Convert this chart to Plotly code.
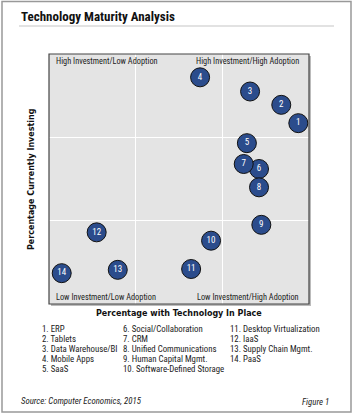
import plotly.graph_objects as go

# ---- data ----
ids = [1, 2, 3, 4, 5, 6, 7, 8, 9, 10, 11, 12, 13, 14]
adoption = [86.3, 80.4, 69.6, 52.3, 68.5, 72.7, 67.4, 72.7, 73.5, 56.1, 49.2, 16.5, 23.8, 4.4]
investing = [21.7, 23.9, 25.5, 27.2, 19.3, 16.2, 16.8, 14.0, 9.5, 7.6, 4.2, 8.6, 4.1, 3.7]
names = ["ERP", "Tablets", "Data Warehouse/BI", "Mobile Apps", "SaaS",
         "Social/Collaboration", "CRM", "Unified Communications", "Human Capital Mgmt.",
         "Software-Defined Storage", "Desktop Virtualization", "IaaS",
         "Supply Chain Mgmt.", "PaaS"]
quadrants = ["High Investment/Low Adoption", "High Investment/High Adoption",
             "Low Investment/Low Adoption", "Low Investment/High Adoption"]

W, H = 354, 416
L, R, T, B = 49, 309, 54, 304
PW, PH = R - L, B - T

def px(x):
    return (x - L) / PW

def py(y):
    return (B - y) / PH

FONT = "Roboto Condensed, Liberation Sans, Arial"

fig = go.Figure()
fig.add_trace(go.Scatter(
    x=adoption, y=investing, mode="markers+text",
    text=[str(i) for i in ids], textposition="middle center",
    textfont=dict(color="white", size=9, family=FONT),
    marker=dict(size=19, color="#2B4C8C", line=dict(color="#111111", width=1)),
    hoverinfo="skip", cliponaxis=False,
))

ann = []
# title
ann.append(dict(text="<b>Technology Maturity Analysis</b>", x=px(19), y=py(16),
                xref="paper", yref="paper", xanchor="left", yanchor="middle",
                showarrow=False, font=dict(size=13, family=FONT, color="#111")))
# quadrant labels
qpos = [(54, 61, "left"), (301, 61, "right"), (54, 297, "left"), (301, 297, "right")]
for q, (x, y, a) in zip(quadrants, qpos):
    ann.append(dict(text=q, x=px(x), y=py(y), xref="paper", yref="paper",
                    xanchor=a, yanchor="middle", showarrow=False,
                    font=dict(size=8.3, family=FONT, color="#222")))
# axis titles
ann.append(dict(text="<b>Percentage with Technology In Place</b>", x=px(179), y=py(313),
                xref="paper", yref="paper", xanchor="center", yanchor="middle",
                showarrow=False, font=dict(size=8, family="DejaVu Sans", color="#111")))
ann.append(dict(text="<b>Percentage Currently Investing</b>", x=px(31), y=py(179),
                xref="paper", yref="paper", xanchor="center", yanchor="middle", textangle=-90,
                showarrow=False, font=dict(size=8, family="DejaVu Sans", color="#111")))
# legend list
colx = [40, 121, 228]
for k, (i, n) in enumerate(zip(ids, names)):
    col = 0 if k < 5 else (1 if k < 10 else 2)
    row = k - col * 5
    ann.append(dict(text=f"{i}. {n}", x=px(colx[col]), y=py(328.5 + row * 10.2),
                    xref="paper", yref="paper", xanchor="left", yanchor="middle",
                    showarrow=False, font=dict(size=8.8, family=FONT, color="#222")))
# source & figure
ann.append(dict(text="<i>Source: Computer Economics, 2015</i>", x=px(19), y=py(401),
                xref="paper", yref="paper", xanchor="left", yanchor="middle",
                showarrow=False, font=dict(size=8.8, family=FONT, color="#222")))
ann.append(dict(text="<i>Figure 1</i>", x=px(331), y=py(402),
                xref="paper", yref="paper", xanchor="right", yanchor="middle",
                showarrow=False, font=dict(size=8.8, family=FONT, color="#222")))

shapes = [
    # outer frame
    dict(type="rect", xref="paper", yref="paper", x0=px(2), x1=px(351), y0=py(1.5), y1=py(412),
         line=dict(color="#999", width=1.5), layer="below"),
    # title rule
    dict(type="line", xref="paper", yref="paper", x0=px(19), x1=px(334), y0=py(26), y1=py(26),
         line=dict(color="#d8d8d8", width=1.5)),
    # plot shadow
    dict(type="rect", xref="paper", yref="paper", x0=px(L + 2), x1=px(R + 2), y0=py(B + 2), y1=py(T + 2),
         line=dict(width=0), fillcolor="#bbbbbb", layer="below"),
    # plot background
    dict(type="rect", xref="paper", yref="paper", x0=0, x1=1, y0=0, y1=1,
         line=dict(width=0), fillcolor="#e4e4e4", layer="below"),
    # plot frame
    dict(type="rect", xref="paper", yref="paper", x0=0, x1=1, y0=0, y1=1,
         line=dict(color="#444", width=1.2)),
]

fig.update_layout(
    width=W, height=H, margin=dict(l=L, r=W - R, t=T, b=H - B),
    paper_bgcolor="white", plot_bgcolor="rgba(0,0,0,0)",
    showlegend=False, annotations=ann, shapes=shapes,
    xaxis=dict(range=[0, 90], dtick=30, showticklabels=False, showgrid=True,
               gridcolor="white", gridwidth=1, zeroline=False, showline=False, fixedrange=True),
    yaxis=dict(range=[0, 30], dtick=10, showticklabels=False, showgrid=True,
               gridcolor="white", gridwidth=1, zeroline=False, showline=False, fixedrange=True),
)

fig.write_html("out.html", config={"displayModeBar": False})
